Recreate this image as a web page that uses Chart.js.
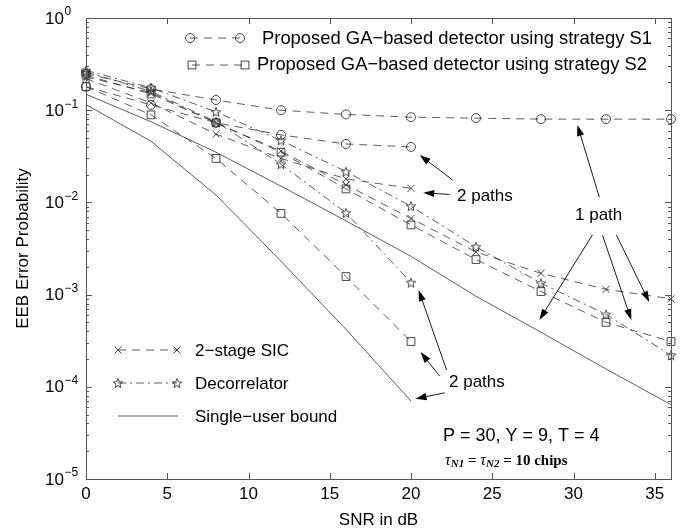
<!DOCTYPE html>
<html>
<head>
<meta charset="utf-8">
<script src="https://cdn.jsdelivr.net/npm/chart.js@4.4.0/dist/chart.umd.min.js"></script>
<style>
  html, body { margin: 0; padding: 0; background: #fff; }
  #wrap { width: 684px; height: 531px; }
</style>
</head>
<body>
<div id="wrap"><canvas id="eebChart" width="684" height="531"></canvas></div>
<script>
// SNR points (dB)
const snr = [0, 4, 8, 12, 16, 20, 24, 28, 32, 36];
const snrTwo = [0, 4, 8, 12, 16, 20];

// GA detector, strategy S1 / S2
const s1OnePath = [0.25, 0.17, 0.129, 0.10, 0.090, 0.084, 0.082, 0.080, 0.080, 0.080];
const s1TwoPath = [0.18, 0.114, 0.073, 0.054, 0.043, 0.040];
const s2OnePath = [0.24, 0.15, 0.073, 0.035, 0.014, 0.0057, 0.0024, 0.00108, 0.00050, 0.00031];
const s2TwoPath = [0.18, 0.089, 0.030, 0.0076, 0.00157, 0.00031];
// 2-stage SIC
const sicOnePath = [0.23, 0.155, 0.073, 0.036, 0.0155, 0.0067, 0.0029, 0.0017, 0.00114, 0.00090];
const sicTwoPath = [0.22, 0.12, 0.055, 0.030, 0.018, 0.0142];
// decorrelator
const decOnePath = [0.27, 0.175, 0.096, 0.047, 0.0216, 0.0091, 0.0033, 0.00133, 0.00061, 0.00022];
const decTwoPath = [0.26, 0.16, 0.075, 0.026, 0.0077, 0.00135];
// single-user bound
const boundOnePath = [0.149, 0.075, 0.035, 0.015, 0.0063, 0.0026, 0.00096, 0.00039, 0.000156, 0.000064];
const boundTwoPath = [0.115, 0.046, 0.012, 0.0023, 0.00042, 0.00007];

// axes
const xTicks = [0, 5, 10, 15, 20, 25, 30, 35];
const yExps = [0, -1, -2, -3, -4, -5];

// legend texts
const legendTop = ['Proposed GA\u2212based detector using strategy S1', 'Proposed GA\u2212based detector using strategy S2'];
const legendBottom = ['2\u2212stage SIC', 'Decorrelator', 'Single\u2212user bound'];

// arrows [fromX, fromY, toX, toY] in data units
const arrowsTwoTop = [[22.56, 0.0175, 20.53, 0.0327], [22.37, 0.0122, 20.75, 0.0127]];
const arrowsOne = [[31.59, 0.0114, 30.24, 0.0691], [31.16, 0.00443, 27.9, 0.00053], [31.78, 0.00443, 33.56, 0.00053], [32.64, 0.00443, 34.66, 0.00083]];
const arrowsTwoBottom = [[22.19, 0.000152, 20.47, 0.00112], [21.76, 0.000131, 20.59, 0.000238], [22.07, 0.000086, 20.28, 0.000074]];

const INK = '#333';
const DASH = [8, 6];
const DASHDOT = [8, 4, 2, 4];
const SANS = '"Liberation Sans", Arial, sans-serif';

function starImg(r) {
    const c = document.createElement('canvas');
    const s = Math.ceil(r * 2 + 4);
    c.width = s; c.height = s;
    const g = c.getContext('2d');
    g.strokeStyle = INK; g.lineWidth = 0.9;
    g.beginPath();
    for (let i = 0; i < 10; i++) {
        const rr = i % 2 === 0 ? r : r * 0.42;
        const a = -Math.PI / 2 + i * Math.PI / 5;
        const px = s / 2 + rr * Math.cos(a), py = s / 2 + rr * Math.sin(a) + 0.5;
        if (i === 0) g.moveTo(px, py); else g.lineTo(px, py);
    }
    g.closePath(); g.stroke();
    return c;
}
const star = starImg(5);

function series(xs, ys, style, radius, dash) {
    return {
        data: xs.map((x, i) => ({ x: x, y: ys[i] })),
        borderColor: INK, borderWidth: 0.8, borderDash: dash,
        pointStyle: style, pointRadius: radius,
        pointBorderColor: INK, pointBorderWidth: 0.9,
        pointBackgroundColor: 'rgba(0,0,0,0)',
        tension: 0, clip: false
    };
}

function drawArrow(ctx, x1, y1, x2, y2) {
    const ang = Math.atan2(y2 - y1, x2 - x1);
    const L = 11, W = 3.6;
    ctx.beginPath();
    ctx.moveTo(x1, y1);
    ctx.lineTo(x2 - L * 0.8 * Math.cos(ang), y2 - L * 0.8 * Math.sin(ang));
    ctx.stroke();
    ctx.beginPath();
    ctx.moveTo(x2, y2);
    ctx.lineTo(x2 - L * Math.cos(ang) + W * Math.sin(ang), y2 - L * Math.sin(ang) - W * Math.cos(ang));
    ctx.lineTo(x2 - L * Math.cos(ang) - W * Math.sin(ang), y2 - L * Math.sin(ang) + W * Math.cos(ang));
    ctx.closePath();
    ctx.fill();
}

function marker(ctx, kind, x, y) {
    ctx.save();
    ctx.strokeStyle = INK; ctx.lineWidth = 0.9; ctx.setLineDash([]);
    if (kind === 'circle') {
        ctx.beginPath(); ctx.arc(x, y, 4.5, 0, Math.PI * 2); ctx.stroke();
    } else if (kind === 'rect') {
        ctx.strokeRect(x - 3.9, y - 3.9, 7.8, 7.8);
    } else if (kind === 'x') {
        ctx.beginPath();
        ctx.moveTo(x - 3.5, y - 3.5); ctx.lineTo(x + 3.5, y + 3.5);
        ctx.moveTo(x + 3.5, y - 3.5); ctx.lineTo(x - 3.5, y + 3.5);
        ctx.stroke();
    } else if (kind === 'star') {
        ctx.drawImage(star, x - star.width / 2, y - star.height / 2);
    }
    ctx.restore();
}

function sample(ctx, x1, x2, y, dash, kind) {
    ctx.save();
    ctx.strokeStyle = INK; ctx.lineWidth = 0.8; ctx.setLineDash(dash);
    ctx.beginPath(); ctx.moveTo(x1, y); ctx.lineTo(x2, y); ctx.stroke();
    ctx.restore();
    if (kind) { marker(ctx, kind, x1, y); marker(ctx, kind, x2, y); }
}

const decorations = {
    id: 'decorations',
    afterDraw(chart) {
        const ctx = chart.ctx;
        const xs = chart.scales.x, ys = chart.scales.y;
        const a = chart.chartArea;
        ctx.save();
        // box
        ctx.strokeStyle = '#555'; ctx.lineWidth = 1; ctx.setLineDash([]);
        ctx.strokeRect(a.left + 0.5, a.top + 0.5, a.right - a.left, a.bottom - a.top);
        // x ticks
        ctx.beginPath();
        xTicks.forEach(t => {
            const px = Math.round(xs.getPixelForValue(t)) + 0.5;
            ctx.moveTo(px, a.bottom); ctx.lineTo(px, a.bottom - 6);
            ctx.moveTo(px, a.top); ctx.lineTo(px, a.top + 6);
        });
        // y ticks, major + minor
        yExps.forEach(e => {
            const py = Math.round(ys.getPixelForValue(Math.pow(10, e))) + 0.5;
            ctx.moveTo(a.left, py); ctx.lineTo(a.left + 6, py);
            ctx.moveTo(a.right, py); ctx.lineTo(a.right - 6, py);
            if (e > -5) {
                for (let k = 2; k <= 9; k++) {
                    const pm = Math.round(ys.getPixelForValue(k * Math.pow(10, e - 1))) + 0.5;
                    ctx.moveTo(a.left, pm); ctx.lineTo(a.left + 3, pm);
                    ctx.moveTo(a.right, pm); ctx.lineTo(a.right - 3, pm);
                }
            }
        });
        ctx.stroke();

        ctx.fillStyle = '#000';
        // x tick labels
        ctx.font = '17px ' + SANS;
        ctx.textAlign = 'center'; ctx.textBaseline = 'middle';
        xTicks.forEach(t => ctx.fillText(String(t), xs.getPixelForValue(t), 494));
        // y tick labels 10^e
        yExps.forEach(e => {
            const py = ys.getPixelForValue(Math.pow(10, e));
            ctx.font = '17px ' + SANS;
            ctx.textAlign = 'right'; ctx.textBaseline = 'middle';
            ctx.fillText('10', 64, py + 1);
            ctx.font = '12px ' + SANS;
            ctx.textAlign = 'left';
            ctx.fillText(e === 0 ? '0' : '\u2212' + (-e), 64.5, py - 6);
        });
        // axis titles
        ctx.font = '17px ' + SANS;
        ctx.textAlign = 'center';
        ctx.fillText('SNR in dB', (a.left + a.right) / 2, 520);
        ctx.save();
        ctx.translate(23, (a.top + a.bottom) / 2);
        ctx.rotate(-Math.PI / 2);
        ctx.fillText('EEB Error Probability', 0, 0);
        ctx.restore();

        // legends
        ctx.textAlign = 'left';
        sample(ctx, 190, 240, 38, DASH, 'circle');
        sample(ctx, 192, 245, 65, DASH, 'rect');
        ctx.font = '18.4px ' + SANS;
        ctx.fillText(legendTop[0], 262, 39);
        ctx.fillText(legendTop[1], 257, 65);
        ctx.font = '17px ' + SANS;
        sample(ctx, 118, 177, 350, DASH, 'x');
        ctx.fillText(legendBottom[0], 195, 351);
        sample(ctx, 118, 177, 383, DASHDOT, 'star');
        ctx.fillText(legendBottom[1], 195, 384);
        sample(ctx, 118, 178, 416, [], null);
        ctx.fillText(legendBottom[2], 195, 417);

        // annotations
        ctx.fillText('2 paths', 457, 196);
        ctx.fillText('1 path', 575, 215);
        ctx.fillText('2 paths', 449, 382);
        ctx.font = '18px ' + SANS;
        ctx.fillText('P = 30, Y = 9, T = 4', 443, 436);

        // tau line
        let tx = 445; const ty = 461;
        const part = (txt, font, dy) => { ctx.font = font; ctx.fillText(txt, tx, ty + dy); tx += ctx.measureText(txt).width; };
        const it = 'italic 16px "Liberation Serif", serif';
        const sub = 'italic bold 11px "Liberation Serif", serif';
        const bd = 'bold 15px "Liberation Serif", serif';
        part('\u03c4', it, 0); part('N1', sub, 3); part(' = ', bd, 0);
        part('\u03c4', it, 0); part('N2', sub, 3); part(' = 10 chips', bd, 0);

        // arrows
        ctx.strokeStyle = '#000'; ctx.fillStyle = '#000'; ctx.lineWidth = 0.9;
        arrowsTwoTop.concat(arrowsOne, arrowsTwoBottom).forEach(r => {
            drawArrow(ctx, xs.getPixelForValue(r[0]), ys.getPixelForValue(r[1]),
                xs.getPixelForValue(r[2]), ys.getPixelForValue(r[3]));
        });
        ctx.restore();
    }
};

const ctx = document.getElementById('eebChart').getContext('2d');
const eebChart = new Chart(ctx, {
    type: 'line',
    data: {
        datasets: [
            series(snr, s1OnePath, 'circle', 4.5, DASH),
            series(snrTwo, s1TwoPath, 'circle', 4.5, DASH),
            series(snr, s2OnePath, 'rect', 5.5, DASH),
            series(snrTwo, s2TwoPath, 'rect', 5.5, DASH),
            series(snr, sicOnePath, 'crossRot', 5, DASH),
            series(snrTwo, sicTwoPath, 'crossRot', 5, DASH),
            series(snr, decOnePath, star, 5, DASHDOT),
            series(snrTwo, decTwoPath, star, 5, DASHDOT),
            series(snr, boundOnePath, false, 0, []),
            series(snrTwo, boundTwoPath, false, 0, [])
        ]
    },
    options: {
        responsive: false, animation: false, devicePixelRatio: 1, events: [],
        layout: { padding: { left: 86, top: 18, right: 13, bottom: 52 } },
        plugins: { legend: { display: false }, tooltip: { enabled: false } },
        scales: {
            x: { type: 'linear', min: 0, max: 36, display: false },
            y: { type: 'logarithmic', min: 1e-5, max: 1, display: false }
        }
    },
    plugins: [decorations]
});
</script>
</body>
</html>
